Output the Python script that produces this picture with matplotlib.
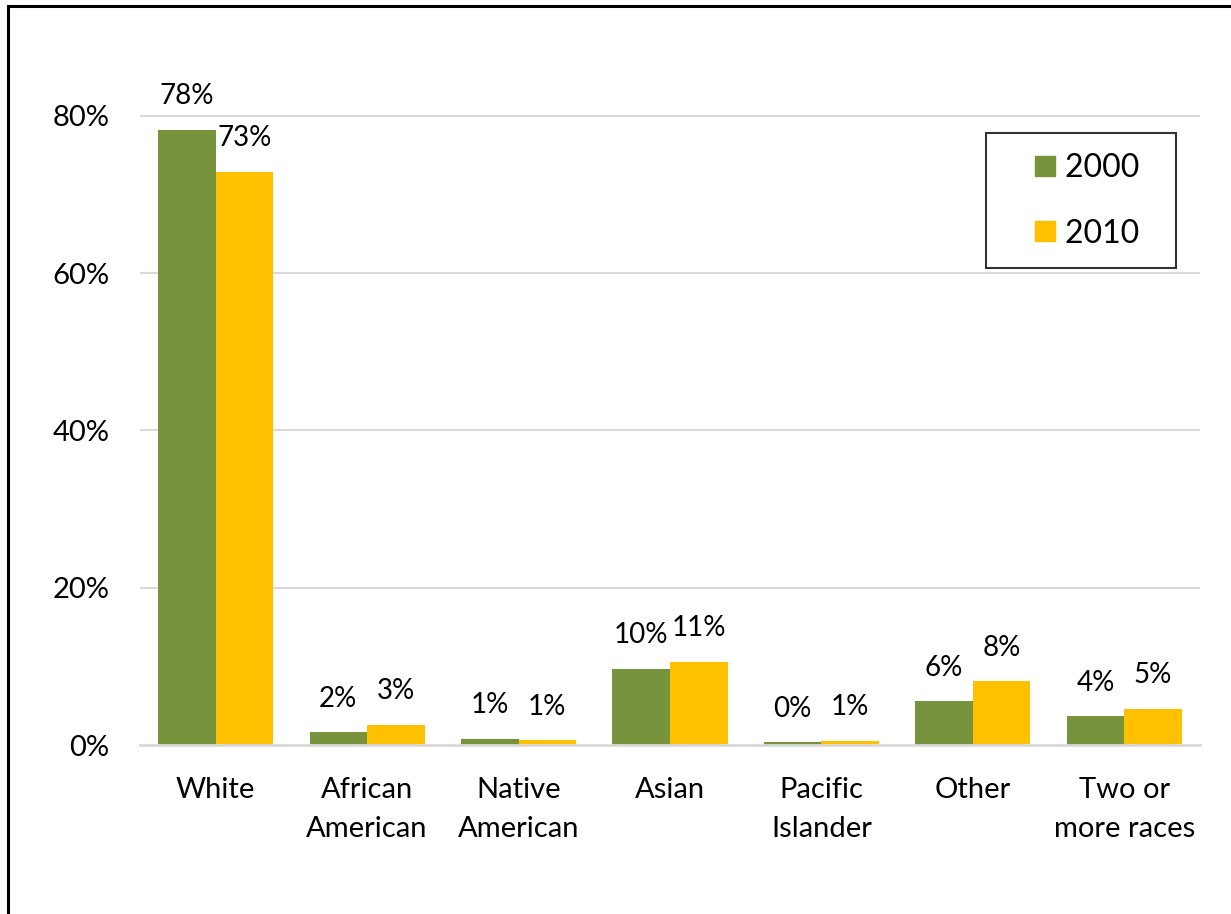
import numpy as np
import matplotlib.pyplot as plt
from matplotlib.lines import Line2D
from matplotlib.ticker import FuncFormatter

categories = ["White", "African\nAmerican", "Native\nAmerican", "Asian",
              "Pacific\nIslander", "Other", "Two or\nmore races"]
share_2000 = [78.2, 1.6, 0.8, 9.7, 0.35, 5.6, 3.7]
share_2010 = [72.9, 2.6, 0.6, 10.6, 0.55, 8.1, 4.6]
year_labels = ["2000", "2010"]
y_ticks = [0, 20, 40, 60, 80]

green = "#77933C"
gold = "#FFC000"
grid_gray = "#D9D9D9"

plt.rcParams["font.family"] = ["Lato", "DejaVu Sans"]

W, H = 1231, 914
fig = plt.figure(figsize=(W / 100, H / 100), dpi=100)
ax = fig.add_axes([140 / W, (H - 745) / H, (1200 - 140) / W, (745 - 37) / H])

x = np.arange(len(categories))
bw = 0.38
b1 = ax.bar(x - bw / 2, share_2000, bw, color=green)
b2 = ax.bar(x + bw / 2, share_2010, bw, color=gold)

for bars in (b1, b2):
    for rect in bars:
        v = rect.get_height()
        ax.annotate("%.0f%%" % v, (rect.get_x() + rect.get_width() / 2, v),
                    xytext=(0, 24), textcoords="offset points",
                    ha="center", va="center", fontsize=20, color="black")

ax.set_xlim(-0.5, len(categories) - 0.5)
ax.set_ylim(0, 90)
ax.set_yticks(y_ticks)
ax.yaxis.set_major_formatter(FuncFormatter(lambda v, p: "%d%%" % v))
ax.set_xticks(x)
ax.set_xticklabels(categories, fontsize=21, linespacing=1.62)
ax.tick_params(axis="x", length=0, pad=23)
ax.tick_params(axis="y", length=0, pad=22, labelsize=21)

for v in y_ticks[1:]:
    ax.axhline(v, color=grid_gray, lw=1.5, zorder=0)
for side in ("top", "right", "left"):
    ax.spines[side].set_visible(False)
ax.spines["bottom"].set_color(grid_gray)
ax.spines["bottom"].set_linewidth(2)

# square swatches centred in a wide handle box to give the roomy left margin
handles = [Line2D([], [], marker="s", linestyle="", markersize=15, color=c)
           for c in (green, gold)]
leg = ax.legend(handles, [lab + "  " for lab in year_labels],
                loc="upper right", bbox_to_anchor=((1176 - 140) / 1060, (745 - 133) / 708),
                fontsize=23, frameon=True, fancybox=False, handlelength=2.45,
                handletextpad=-0.575, labelspacing=1.12,
                borderpad=0.62, borderaxespad=0)
leg.get_frame().set_edgecolor("black")
leg.get_frame().set_linewidth(1.5)

# outer frame: only left and top edges fall inside the image
fig.add_artist(Line2D([8 / W, 8 / W], [0, 1 - 6 / H], color="black", lw=2.2,
                      transform=fig.transFigure))
fig.add_artist(Line2D([8 / W, 1], [1 - 6 / H, 1 - 6 / H], color="black", lw=2.2,
                      transform=fig.transFigure))

fig.savefig("out.png", dpi=100)
